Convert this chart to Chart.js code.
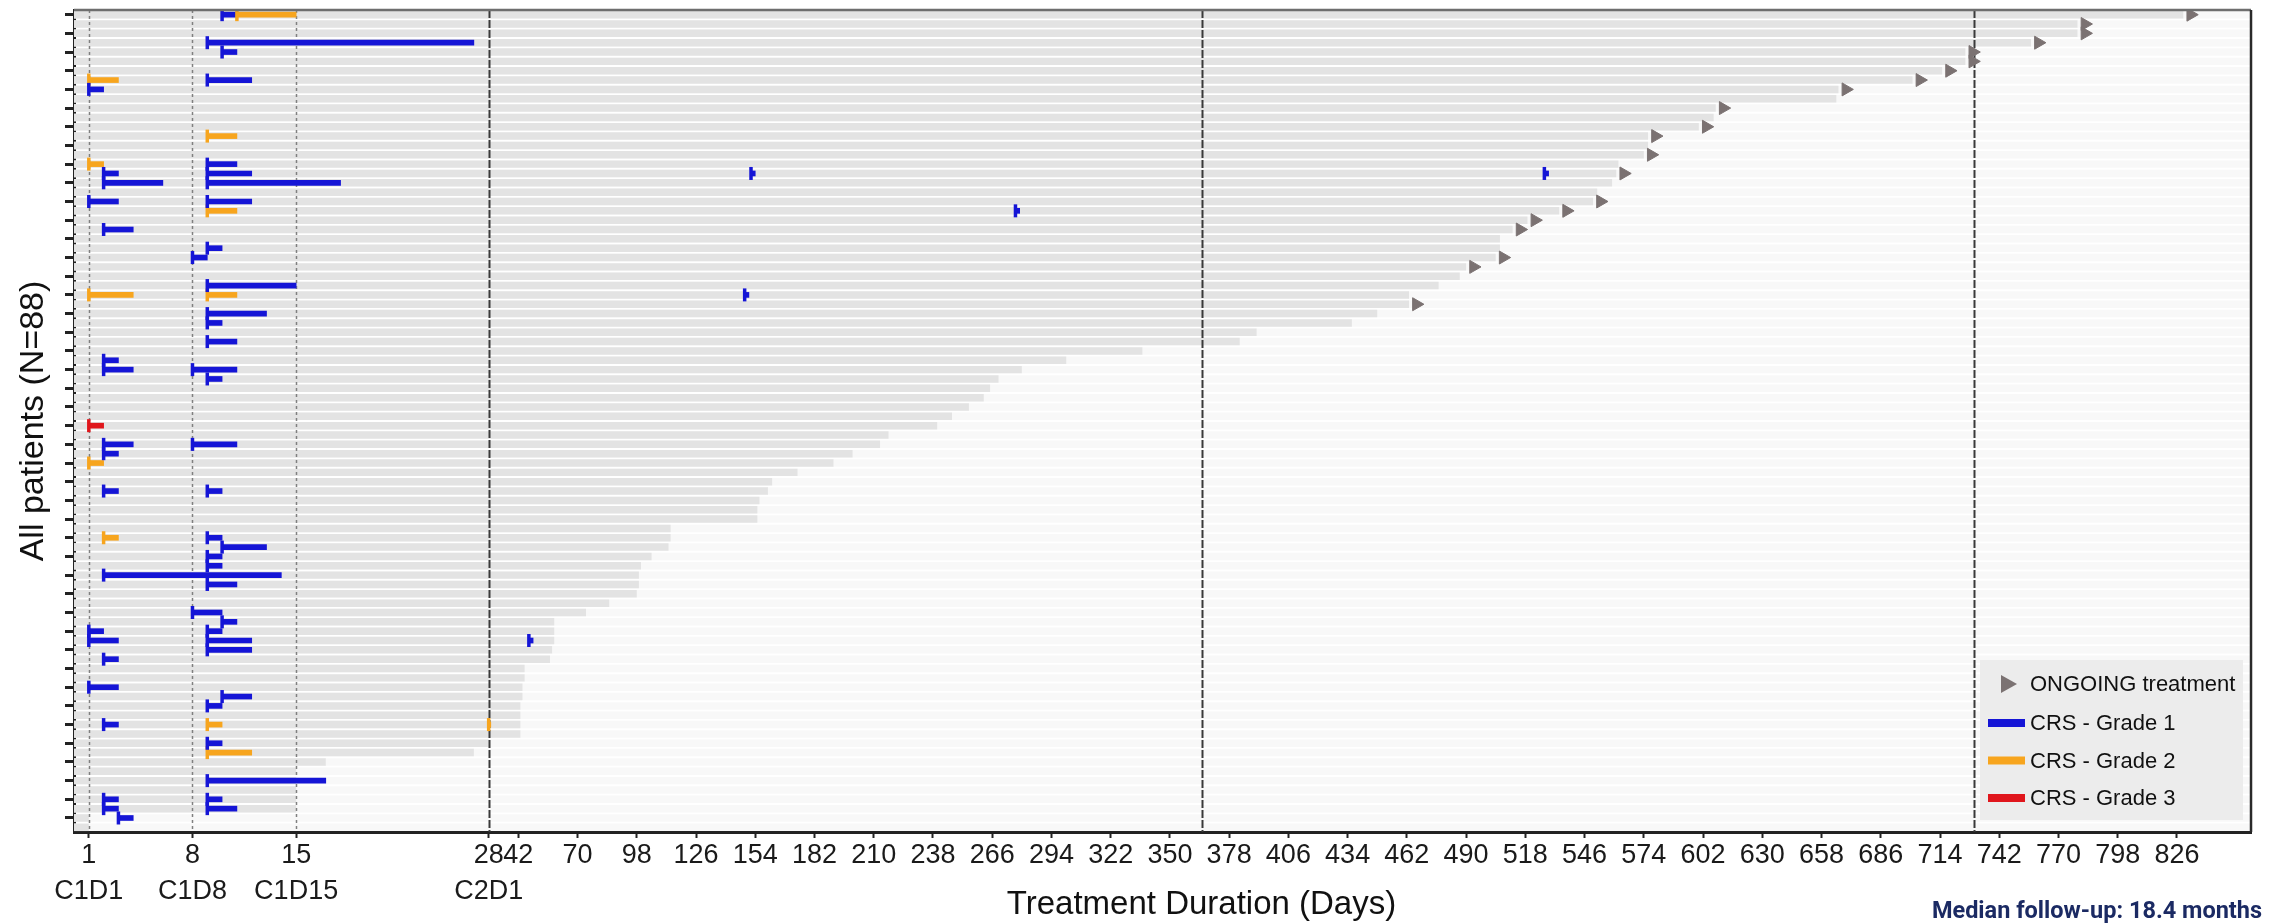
<!DOCTYPE html>
<html>
<head>
<meta charset="utf-8">
<script src="https://cdn.jsdelivr.net/npm/chart.js@4.4.1/dist/chart.umd.min.js"></script>
<style>
  html, body { margin: 0; padding: 0; background: #fff; }
  canvas { display: block; }
</style>
</head>
<body>
<canvas id="swimmer" width="2274" height="923"></canvas>
<script>
// treatment duration (days) per patient, top row first
var durations = [829, 779, 779, 757, 726, 726, 715, 701, 666, 665,
                 608, 607, 600, 576, 576, 574, 562, 561, 559, 552,
                 550, 534, 519, 512, 506, 506, 504, 490, 487, 477,
                 463, 463, 448, 436, 391, 383, 337, 301, 280, 269,
                 265, 262, 255, 247, 240, 217, 213, 200, 191, 174,
                 162, 160, 156, 155, 155, 114, 114, 113, 105, 100,
                 99, 99, 98, 85, 74, 59, 59, 59, 58, 57,
                 45, 45, 44, 44, 43, 43, 43, 43, 28, 27,
                 17, 15, 15, 15, 15, 15, 1, 1];

// rows still on treatment
var ongoing = [1, 2, 3, 4, 5, 6, 7, 8, 9, 11, 13, 14, 16, 18, 21, 22, 23, 24, 27, 28, 32];

// CRS episodes: [row, first day, last day]
var crsGrade1 = [[1,10,11],[4,9,27],[5,10,11],[8,9,12],[9,1,2],[17,9,11],[18,2,3],[18,9,12],
                 [18,152,154],[18,527,529],[19,2,6],[19,9,18],[21,1,3],[21,9,12],[22,277,279],
                 [24,2,4],[26,9,10],[27,8,9],[30,9,15],[31,149,151],[33,9,13],[34,9,10],[36,9,11],
                 [38,2,3],[39,2,4],[39,8,11],[40,9,10],[47,2,4],[47,8,11],[48,2,3],[52,2,3],[52,9,10],
                 [57,9,10],[58,10,13],[59,9,10],[60,9,10],[61,2,14],[62,9,11],[65,8,10],[66,10,11],
                 [67,1,2],[67,9,10],[68,1,3],[68,9,12],[68,47,49],[69,9,12],[70,2,3],[73,1,3],
                 [74,10,12],[75,9,10],[77,2,3],[79,9,10],[83,9,17],[85,2,3],[85,9,10],[86,2,3],
                 [86,9,11],[87,3,4]];
var crsGrade2 = [[1,11,15],[8,1,3],[14,9,11],[17,1,2],[22,9,11],[31,1,4],[31,9,11],[49,1,2],
                 [57,2,3],[77,9,10],[77,28,29],[80,9,12]];
var crsGrade3 = [[45,1,2]];

var tickDays = [1, 8, 15, 28, 42, 70, 98, 126, 154, 182, 210, 238, 266, 294, 322, 350, 378,
                406, 434, 462, 490, 518, 546, 574, 602, 630, 658, 686, 714, 742, 770, 798, 826];
var cycleNames = {1: 'C1D1', 8: 'C1D8', 15: 'C1D15', 28: 'C2D1'};
var refDays = [1, 8, 15, 28, 365, 730];
var lastDay = 861;

// cycle 1 is stretched 7x compared with the rest of follow-up
function toAxis(day) {
  return day <= 28 ? day * 7 : day + 168;
}

var rows = durations.map(function(d, i) { return i + 1; });
var tickLabels = tickDays.map(function(d) {
  return cycleNames[d] ? [String(d), cycleNames[d]] : String(d);
});

var font = '"Liberation Sans", Arial, sans-serif';
var blue = '#1515d6', orange = '#f7a51e', red = '#e0161c', arrowGrey = '#7b7272';

function crsBars(list, color, label) {
  return {
    type: 'bar', label: label, indexAxis: 'y', grouped: false, order: 3,
    data: list.map(function(e) { return {x: [toAxis(e[1]), toAxis(e[2])], y: e[0]}; }),
    backgroundColor: color, barThickness: 5
  };
}
function crsCaps(list, color) {
  return {
    type: 'scatter', order: 2,
    data: list.map(function(e) { return {x: toAxis(e[1]), y: e[0]}; }),
    pointStyle: 'line', pointRotation: 90, pointRadius: 6.5, pointHoverRadius: 6.5,
    pointBorderColor: color, pointBorderWidth: 3.5
  };
}

var datasets = [
  {
    type: 'bar', label: 'stripes', indexAxis: 'y', grouped: false, order: 5,
    data: rows.map(function(r) { return {x: [0, toAxis(lastDay)], y: r}; }),
    backgroundColor: '#f8f8f8', barPercentage: 1, categoryPercentage: 0.8
  },
  {
    type: 'bar', label: 'Treatment', indexAxis: 'y', grouped: false, order: 4,
    data: durations.map(function(d, i) { return {x: [0, toAxis(d)], y: i + 1}; }),
    backgroundColor: '#e3e3e3', barPercentage: 1, categoryPercentage: 0.8
  },
  crsBars(crsGrade1, blue, 'CRS - Grade 1'),
  crsBars(crsGrade2, orange, 'CRS - Grade 2'),
  crsBars(crsGrade3, red, 'CRS - Grade 3'),
  crsCaps(crsGrade1, blue),
  crsCaps(crsGrade2, orange),
  crsCaps(crsGrade3, red),
  {
    type: 'scatter', label: 'ONGOING treatment', order: 1,
    data: ongoing.map(function(r) { return {x: toAxis(durations[r - 1]) + 3.5, y: r}; }),
    pointStyle: 'triangle', pointRotation: 90, pointRadius: 7.5, pointHoverRadius: 7.5,
    pointBackgroundColor: arrowGrey, pointBorderColor: arrowGrey, pointBorderWidth: 1
  }
];

var swimmerDecor = {
  id: 'swimmerDecor',
  afterDatasetDraw: function(chart, args) {
    if (args.index !== 1) return;
    var ctx = chart.ctx, a = chart.chartArea, x = chart.scales.x;
    ctx.save();
    refDays.forEach(function(d) {
      var px = Math.round(x.getPixelForValue(toAxis(d))) + 0.5;
      var major = d >= 28;
      ctx.strokeStyle = major ? '#3a3a3a' : '#808080';
      ctx.lineWidth = major ? 2 : 1.5;
      ctx.setLineDash(major ? [8, 2] : [3, 3]);
      ctx.beginPath();
      ctx.moveTo(px, a.top);
      ctx.lineTo(px, a.bottom);
      ctx.stroke();
    });
    ctx.restore();
  },
  afterDraw: function(chart) {
    var ctx = chart.ctx, a = chart.chartArea;
    ctx.save();
    // top and right frame
    ctx.strokeStyle = '#6e6e6e';
    ctx.lineWidth = 2.5;
    ctx.beginPath();
    ctx.moveTo(a.left, a.top);
    ctx.lineTo(a.right, a.top);
    ctx.stroke();
    ctx.strokeStyle = '#2a2a2a';
    ctx.beginPath();
    ctx.moveTo(a.right, a.top);
    ctx.lineTo(a.right, a.bottom);
    ctx.stroke();

    // legend box
    var bx = a.right - 271, by = a.bottom - 172, bw = 263, bh = 160;
    ctx.fillStyle = '#ececec';
    ctx.fillRect(bx, by, bw, bh);
    ctx.font = '22px ' + font;
    ctx.textBaseline = 'middle';
    ctx.textAlign = 'left';
    var tri = datasets[8];
    ctx.fillStyle = arrowGrey;
    ctx.beginPath();
    ctx.moveTo(bx + 37, by + 24);
    ctx.lineTo(bx + 21, by + 15);
    ctx.lineTo(bx + 21, by + 33);
    ctx.closePath();
    ctx.fill();
    ctx.fillStyle = '#111';
    ctx.fillText(tri.label, bx + 50, by + 25);
    [datasets[2], datasets[3], datasets[4]].forEach(function(ds, i) {
      var yy = by + 63 + i * 37.5;
      ctx.fillStyle = ds.backgroundColor;
      ctx.fillRect(bx + 8, yy - 4, 37, 8);
      ctx.fillStyle = '#111';
      ctx.fillText(ds.label, bx + 50, yy + 1);
    });

    // x axis title
    ctx.font = '33px ' + font;
    ctx.textAlign = 'center';
    ctx.fillStyle = '#111';
    ctx.fillText('Treatment Duration (Days)', (a.left + a.right) / 2 + 39, 905);

    // follow-up note
    ctx.font = 'bold 23.5px Roboto, ' + font;
    ctx.textAlign = 'right';
    ctx.fillStyle = '#1b2a63';
    ctx.fillText('Median follow-up: 18.4 months', chart.width - 12, 912);
    ctx.restore();
  }
};

new Chart(document.getElementById('swimmer'), {
  type: 'bar',
  data: { datasets: datasets },
  options: {
    responsive: false,
    animation: false,
    devicePixelRatio: 1,
    events: [],
    layout: { padding: { top: 7, right: 23, left: 0, bottom: 0 } },
    plugins: { legend: { display: false }, tooltip: { enabled: false } },
    scales: {
      x: {
        type: 'linear', min: 0, max: toAxis(lastDay), offset: false,
        afterBuildTicks: function(s) {
          s.ticks = tickDays.map(function(d) { return {value: toAxis(d)}; });
        },
        ticks: {
          autoSkip: false, maxRotation: 0, minRotation: 0, padding: 0, color: '#1a1a1a',
          font: { family: font, size: 27, lineHeight: 1.33 },
          callback: function(v, i) { return tickLabels[i]; }
        },
        grid: { offset: false, drawOnChartArea: false, tickLength: 6, tickWidth: 2, tickColor: '#222' },
        border: { color: '#222', width: 3 },
        afterFit: function(s) { s.height = 91; }
      },
      y: {
        type: 'linear', min: 0.5, max: 88.5, reverse: true, offset: false,
        afterBuildTicks: function(s) {
          s.ticks = rows.map(function(r) { return {value: r}; });
        },
        ticks: { padding: 0, callback: function() { return ''; } },
        grid: { offset: false, drawOnChartArea: false, tickLength: 9, tickWidth: 3, tickColor: '#222' },
        border: { color: '#222', width: 3 },
        title: {
          display: true, text: 'All patients (N=88)', color: '#111',
          font: { family: font, size: 34, lineHeight: 1 }, padding: { top: 17, bottom: 0 }
        },
        afterFit: function(s) { s.width = 74; }
      }
    }
  },
  plugins: [swimmerDecor]
});
</script>
</body>
</html>
